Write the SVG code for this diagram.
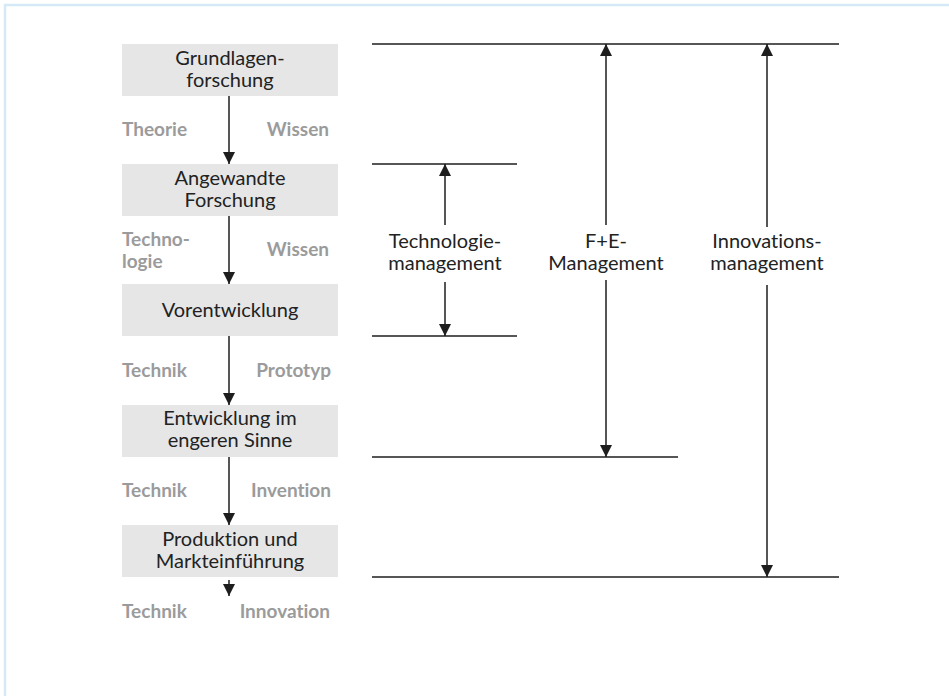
<svg xmlns="http://www.w3.org/2000/svg" width="949" height="696" viewBox="0 0 949 696">
  <defs>
    <marker id="arrow" markerUnits="userSpaceOnUse" markerWidth="12" markerHeight="12" refX="12" refY="6" orient="auto">
      <path d="M0,0 L12,6 L0,12 z" fill="#1e1e1e"/>
    </marker>
    <style>
      .box { fill: #e6e6e7; }
      .t { font-family: Lato, "Liberation Sans", sans-serif; font-size: 20px; fill: #222; text-anchor: middle; font-variant-ligatures: none; }
      .lbl { font-family: Lato, "Liberation Sans", sans-serif; font-size: 19px; font-weight: 700; fill: #9b9b9c; font-variant-ligatures: none; }
      .end { text-anchor: end; }
      .flow { stroke: #1e1e1e; stroke-width: 1.5; fill: none; marker-end: url(#arrow); }
      .rule { stroke: #1e1e1e; stroke-width: 1.5; fill: none; }
    </style>
  </defs>

  <rect width="949" height="696" fill="#ffffff"/>
  <!-- outer frame, open to the right and bottom -->
  <rect x="5" y="5" width="960" height="710" fill="none" stroke="#d6e9f7" stroke-width="2.5"/>

  <!-- phase boxes -->
  <g id="grundlagenforschung">
    <rect class="box" x="122" y="44" width="216" height="52"/>
    <text class="t" x="230" y="65">Grundlagen-</text>
    <text class="t" x="230" y="87">forschung</text>
  </g>
  <g id="angewandte-forschung">
    <rect class="box" x="122" y="164" width="216" height="52"/>
    <text class="t" x="230" y="185">Angewandte</text>
    <text class="t" x="230" y="207">Forschung</text>
  </g>
  <g id="vorentwicklung">
    <rect class="box" x="122" y="284" width="216" height="52"/>
    <text class="t" x="230" y="317">Vorentwicklung</text>
  </g>
  <g id="entwicklung">
    <rect class="box" x="122" y="405" width="216" height="52"/>
    <text class="t" x="230" y="425">Entwicklung im</text>
    <text class="t" x="230" y="447">engeren Sinne</text>
  </g>
  <g id="produktion">
    <rect class="box" x="122" y="525" width="216" height="52"/>
    <text class="t" x="230" y="546">Produktion und</text>
    <text class="t" x="230" y="568">Markteinführung</text>
  </g>

  <!-- side labels between phases -->
  <g id="labels">
    <text class="lbl" x="122" y="136">Theorie</text>
    <text class="lbl end" x="329" y="136">Wissen</text>
    <text class="lbl" x="122" y="246">Techno-</text>
    <text class="lbl" x="122" y="268">logie</text>
    <text class="lbl end" x="329" y="256">Wissen</text>
    <text class="lbl" x="122" y="377">Technik</text>
    <text class="lbl end" x="331" y="377">Prototyp</text>
    <text class="lbl" x="122" y="497">Technik</text>
    <text class="lbl end" x="331" y="497">Invention</text>
    <text class="lbl" x="122" y="618">Technik</text>
    <text class="lbl end" x="330" y="618">Innovation</text>
  </g>

  <!-- range labels -->
  <g id="technologiemanagement">
    <text class="t" x="445" y="248">Technologie-</text>
    <text class="t" x="445" y="270">management</text>
  </g>
  <g id="fe-management">
    <text class="t" x="606" y="248">F+E-</text>
    <text class="t" x="606" y="270">Management</text>
  </g>
  <g id="innovationsmanagement">
    <text class="t" x="767" y="248">Innovations-</text>
    <text class="t" x="767" y="270">management</text>
  </g>

  <g id="connectors">
    <!-- flow between phases -->
    <line class="flow" x1="229" y1="96" x2="229" y2="164"/>
    <line class="flow" x1="229" y1="216" x2="229" y2="284"/>
    <line class="flow" x1="229" y1="336" x2="229" y2="405"/>
    <line class="flow" x1="229" y1="457" x2="229" y2="525"/>
    <line class="flow" x1="229" y1="580" x2="229" y2="596"/>

    <!-- horizontal reference lines -->
    <line class="rule" x1="372" y1="44" x2="839" y2="44"/>
    <line class="rule" x1="372" y1="164" x2="517" y2="164"/>
    <line class="rule" x1="372" y1="336" x2="517" y2="336"/>
    <line class="rule" x1="372" y1="457" x2="678" y2="457"/>
    <line class="rule" x1="372" y1="577" x2="839" y2="577"/>

    <!-- range arrows -->
    <line class="flow" x1="445" y1="225" x2="445" y2="164"/>
    <line class="flow" x1="445" y1="282" x2="445" y2="336"/>
    <line class="flow" x1="606" y1="225" x2="606" y2="44"/>
    <line class="flow" x1="606" y1="280" x2="606" y2="457"/>
    <line class="flow" x1="767" y1="227" x2="767" y2="44"/>
    <line class="flow" x1="767" y1="285" x2="767" y2="577"/>
  </g>
</svg>
